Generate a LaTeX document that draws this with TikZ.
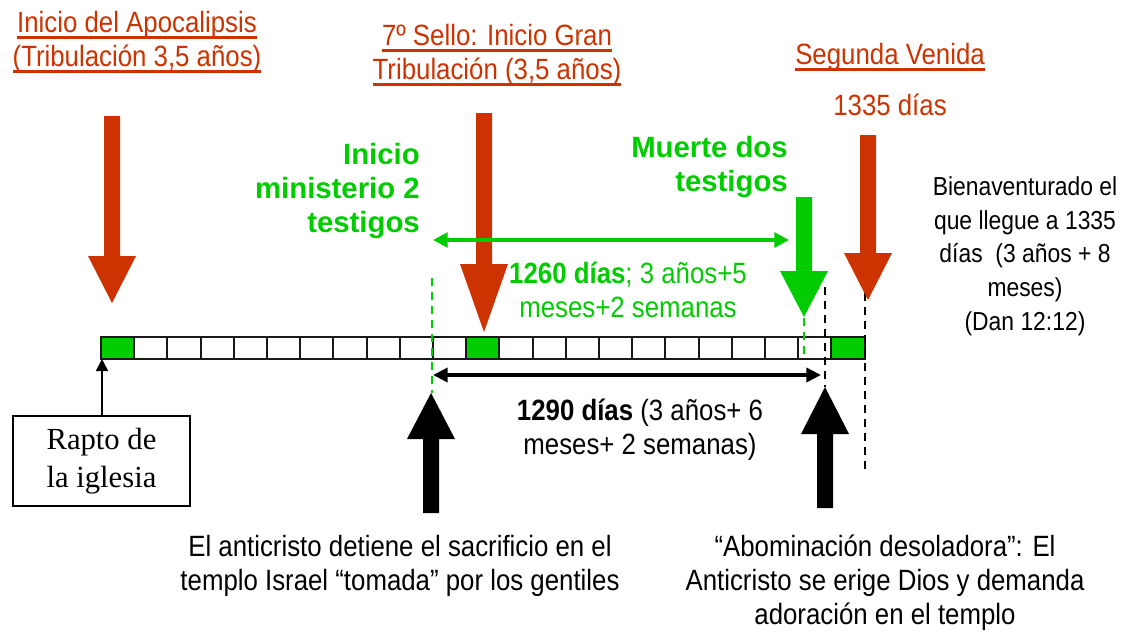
\documentclass[tikz,border=0pt]{standalone}
\usepackage{fontspec}
\setmainfont[FakeStretch=0.88]{Liberation Sans}
\newfontfamily\widefont{Liberation Sans}
\newfontfamily\seriffont{Liberation Serif}
\newsavebox\ulbox
\newcommand\myul[1]{\sbox\ulbox{#1}\leavevmode\rlap{\usebox\ulbox}\rule[-5pt]{\wd\ulbox}{2pt}}
\usetikzlibrary{arrows.meta}
\definecolor{rojo}{RGB}{204,51,0}
\definecolor{verde}{RGB}{0,204,0}
\newcommand\BArrow[5]{\fill[#1] ({#2-8},#3) -- ({#2+8},#3) -- ({#2+8},#4) -- ({#2+24},#4) -- (#2,#5) -- ({#2-24},#4) -- ({#2-8},#4) -- cycle;}
\tikzset{
  txt/.style={font=\fontsize{22}{25.5}\selectfont, align=center, inner sep=0pt},
  txtb/.style={font=\widefont\bfseries\fontsize{22}{25.5}\selectfont, inner sep=0pt, text=verde},
  cell/.style={draw=black!90, line width=1.5pt, fill=white},
  gcell/.style={draw=black!90, line width=1.5pt, fill=verde},
  bdash/.style={draw=black, line width=1.6pt, dash pattern=on 6pt off 4.5pt},
  gdash/.style={draw=verde, line width=1.3pt, dash pattern=on 6pt off 4.5pt},
}
\begin{document}
\begin{tikzpicture}[x=0.75pt,y=-0.75pt]
\useasboundingbox (0,0) rectangle (1137,637);

% texts
\node[txt, text=rojo] (t1) at (137,42) {\myul{Inicio del Apocalipsis}\\\myul{(Tribulación 3,5 años)}};
\node[txt, text=rojo] (t2) at (497,55) {\myul{7º Sello: Inicio Gran}\\\myul{Tribulación (3,5 años)}};
\node[txt, text=rojo] (t3) at (890,57) {\myul{Segunda Venida}};
\node[txt, text=rojo] (t4) at (890,105) {1335 días};
\node[txtb, align=right, anchor=east] (t5) at (420,191) {Inicio\\ministerio 2\\testigos};
\node[txtb, align=right, anchor=east] (t6) at (788,167) {Muerte dos\\testigos};
\node[txt, font=\fontsize{19.5}{25.3}\selectfont] (t7) at (1025,256) {Bienaventurado el\\que llegue a 1335\\días~ (3 años + 8\\meses)\\(Dan 12:12)};
\node[txt, text=verde] (t8) at (628,290) {\textbf{1260 días}; 3 años+5\\meses+2 semanas};
\node[txt] (t9) at (640,430) {\textbf{1290 días} (3 años+ 6\\meses+ 2 semanas)};
\node[txt] (t10) at (400,566) {El anticristo detiene el sacrificio en el\\templo Israel “tomada” por los gentiles};
\node[txt] (t11) at (885,583) {“Abominación desoladora”: El\\Anticristo se erige Dios y demanda\\adoración en el templo};
\node[draw, line width=1.5pt, minimum width=132.75pt, minimum height=67.5pt, inner sep=0pt,
      font=\seriffont\fontsize{23}{28}\selectfont, align=center] (rapto) at (101.5,461) {Rapto de\\la iglesia};

% timeline bar
\foreach \i in {0,...,22} {
  \draw[cell] ({101+\i*33.2},337) rectangle ({101+(\i+1)*33.2},359);
}
\foreach \i in {0,11,22} {
  \draw[gcell] ({101+\i*33.2},337) rectangle ({101+(\i+1)*33.2},359);
}
\coordinate (barL) at (102,359);
\draw[line width=1.3pt, -{Triangle[length=9pt,width=9pt]}] (rapto.north -| barL) -- (barL);

% dashed lines
\coordinate (gdA) at (432,278); \coordinate (gdB) at (432,393);
\coordinate (gdC) at (804,318); \coordinate (gdD) at (804,357);
\coordinate (bdA) at (825,287); \coordinate (bdB) at (825,387);
\coordinate (bdC) at (865,293); \coordinate (bdD) at (865,470);
\draw[gdash] (gdA) -- (gdB);
\draw[gdash] (gdC) -- (gdD);
\draw[bdash] (bdA) -- (bdB);
\draw[bdash] (bdC) -- (bdD);

% block arrows
\BArrow{rojo}{112}{116}{256}{303}
\BArrow{rojo}{484}{113}{264}{332}
\BArrow{rojo}{868}{135}{253}{300}
\BArrow{verde}{804}{197}{271}{317}
\BArrow{black}{431}{513}{439}{393}
\BArrow{black}{825}{508}{434}{387}

% double arrows
\coordinate (gA) at (433,240); \coordinate (gB) at (789,240);
\draw[verde, line width=2.6pt, {Triangle[length=11pt,width=11pt]}-{Triangle[length=11pt,width=11pt]}] (gA) -- (gB);
\coordinate (kA) at (433,375); \coordinate (kB) at (821,375);
\draw[black, line width=3.2pt, {Triangle[length=11pt,width=10.5pt]}-{Triangle[length=11pt,width=10.5pt]}] (kA) -- (kB);
\end{tikzpicture}
\end{document}
